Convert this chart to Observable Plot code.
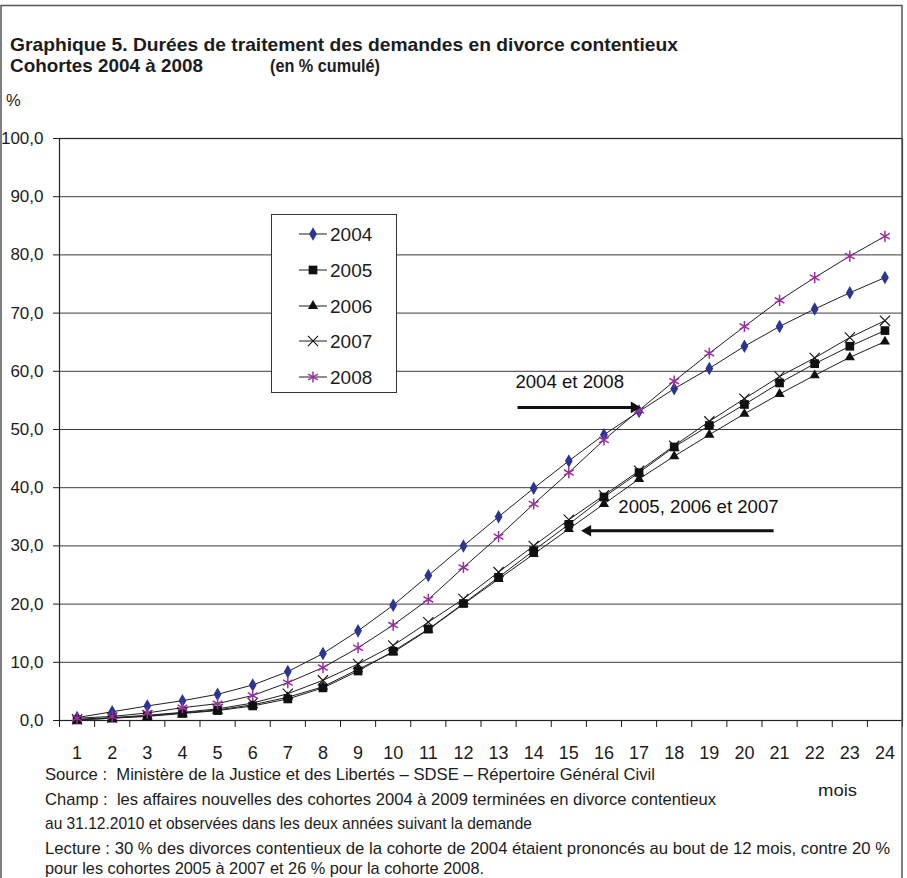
<!DOCTYPE html>
<html>
<head>
<meta charset="utf-8">
<script src="https://cdn.jsdelivr.net/npm/d3@7"></script>
<script src="https://cdn.jsdelivr.net/npm/@observablehq/plot@0.6"></script>
<style>
  body { margin: 0; background: #fff; }
  #chart { width: 907px; height: 878px; }
</style>
</head>
<body>
<div id="chart"></div>
<script>
// ---------- data ----------
const months = [1,2,3,4,5,6,7,8,9,10,11,12,13,14,15,16,17,18,19,20,21,22,23,24];
const cohorts = ["2004", "2005", "2006", "2007", "2008"];
const s2004 = [0.5,1.5,2.5,3.4,4.5,6.1,8.4,11.5,15.4,19.8,24.9,30.0,35.0,39.9,44.6,49.1,53.1,57.0,60.5,64.3,67.7,70.7,73.5,76.1];
const s2005 = [0.1,0.4,0.7,1.2,1.7,2.5,3.7,5.6,8.5,11.9,15.7,20.1,24.6,29.2,33.7,38.4,42.6,47.0,50.7,54.3,58.0,61.3,64.3,67.0];
const s2006 = [0.1,0.4,0.8,1.3,1.8,2.7,4.0,5.8,8.8,11.7,15.6,20.0,24.3,28.6,32.9,37.2,41.5,45.4,49.1,52.7,56.1,59.3,62.4,65.1];
const s2007 = [0.2,0.5,0.9,1.4,2.0,3.0,4.6,6.9,9.7,12.9,16.9,20.9,25.5,30.0,34.5,38.7,42.9,47.2,51.4,55.3,59.1,62.3,65.8,68.7];
const s2008 = [0.4,0.7,1.3,2.2,2.9,4.3,6.5,9.1,12.5,16.4,20.8,26.3,31.6,37.2,42.6,48.2,53.3,58.3,63.1,67.7,72.2,76.1,79.8,83.2];
const yTicks = [0,10,20,30,40,50,60,70,80,90,100];

const noteLabels = ["2004 et 2008", "2005, 2006 et 2007"];
const noteX = [13.48, 16.41];
const noteY = [58.1, 36.6];
const arrowFrom = [13.54, 20.83];
const arrowTo = [17.04, 15.36];
const arrowY = [53.8, 32.6];

const titleLine1 = "Graphique 5. Durées de traitement des demandes en divorce contentieux";
const titleLine2a = "Cohortes 2004 à 2008";
const titleLine2b = "(en % cumulé)";
const yUnit = "%";
const xUnit = "mois";
const footerLines = [
  "Source :  Ministère de la Justice et des Libertés – SDSE – Répertoire Général Civil",
  "Champ :  les affaires nouvelles des cohortes 2004 à 2009 terminées en divorce contentieux",
  "au 31.12.2010 et observées dans les deux années suivant la demande",
  "Lecture : 30 % des divorces contentieux de la cohorte de 2004 étaient prononcés au bout de 12 mois, contre 20 %",
  "pour les cohortes 2005 à 2007 et 26 % pour la cohorte 2008."
];

// ---------- build ----------
const seriesValues = [s2004, s2005, s2006, s2007, s2008];
const rows = cohorts.flatMap((c, i) => months.map((m, j) => ({month: m, value: seriesValues[i][j], cohort: c})));
const bounds = [months[0] - 0.5, ...months.map(m => m + 0.5)];
const notes = noteLabels.map((t, i) => ({label: t, x: noteX[i], y: noteY[i]}));
const arrows = arrowFrom.map((x1, i) => ({x1, x2: arrowTo[i], y: arrowY[i], dir: Math.sign(arrowTo[i] - x1)}));

const BLUE = "#2b3592";
const PURPLE = "#9a2f9e";
const INK = "#1c1c1c";
const symbolStyle = {
  "2004": {symbol: "diamond", fill: BLUE, stroke: "none", r: 4.1},
  "2005": {symbol: "square", fill: "#111", stroke: "none", r: 4.9},
  "2006": {symbol: "triangle", fill: "#111", stroke: "none", r: 3.8},
  "2007": {symbol: "times", fill: "none", stroke: "#111", r: 4.7, strokeWidth: 1.1},
  "2008": {symbol: "asterisk", fill: "none", stroke: PURPLE, r: 5.3, strokeWidth: 1.5}
};

const dotMarks = cohorts.map(c => {
  const s = symbolStyle[c];
  return Plot.dot(rows.filter(d => d.cohort === c), {
    x: "month", y: "value", symbol: s.symbol, fill: s.fill, stroke: s.stroke, r: s.r, strokeWidth: s.strokeWidth || 1
  });
});

const plot = Plot.plot({
  width: 907,
  height: 878,
  marginTop: 138,
  marginBottom: 158,
  marginLeft: 59,
  marginRight: 5,
  x: {domain: [0.5, 24.5], label: null},
  y: {domain: [0, 100], label: null},
  style: {fontFamily: "'Liberation Sans', Arial, sans-serif", color: INK, background: "#fff"},
  marks: [
    Plot.gridY(yTicks, {stroke: "#3a3a3a", strokeOpacity: 1, strokeWidth: 1}),
    Plot.frame({stroke: "#222", strokeWidth: 1.2}),
    Plot.axisY(yTicks, {tickSize: 6, tickPadding: 10, fontSize: 17, label: null,
      tickFormat: d => d.toFixed(1).replace(".", ",")}),
    Plot.axisX(bounds, {tickSize: 7, tickFormat: () => "", label: null}),
    Plot.axisX(months, {tickSize: 0, tickPadding: 26, fontSize: 18, label: null}),
    Plot.line(rows, {x: "month", y: "value", z: "cohort", stroke: "#1f1f1f", strokeWidth: 1}),
    ...dotMarks,
    Plot.link(arrows, {x1: "x1", x2: d => d.x2 - d.dir * 0.2, y1: "y", y2: "y", stroke: "#111", strokeWidth: 3}),
    Plot.dot(arrows, {x: d => d.x2 - d.dir * 0.18, y: "y", symbol: "triangle", r: 4.3, fill: "#111", stroke: "none",
      rotate: d => d.dir > 0 ? 90 : -90}),
    Plot.text(notes, {x: "x", y: "y", text: "label", textAnchor: "start", fontSize: 18.6, fill: "#111"})
  ]
});

document.getElementById("chart").appendChild(plot);

// ---------- decorations: titles, footer, legend, outer frame ----------
const svg = d3.select(plot);
const FONT = "'Liberation Sans', Arial, sans-serif";

svg.append("rect").attr("x", 1).attr("y", 5.5).attr("width", 901).attr("height", 875)
  .attr("fill", "none").attr("stroke", "#555").attr("stroke-width", 1.5);

function txt(s, x, y, size, opts = {}) {
  const t = svg.append("text").attr("x", x).attr("y", y).text(s)
    .attr("font-family", FONT).attr("font-size", size).attr("fill", opts.fill || INK)
    .attr("font-weight", opts.bold ? "bold" : "normal")
    .attr("text-anchor", opts.anchor || "start");
  if (opts.len) t.attr("textLength", opts.len).attr("lengthAdjust", "spacingAndGlyphs");
  return t;
}

txt(titleLine1, 10, 51, 18.5, {bold: true, len: 668});
txt(titleLine2a, 10, 72, 18.5, {bold: true, len: 193});
txt(titleLine2b, 270, 72, 18.5, {bold: true, len: 110});
txt(yUnit, 6, 106, 16.5);
txt(xUnit, 818, 796, 17, {len: 39});

const footerLen = [610, 671, 487, 845, 439];
const footerY = [780, 804.5, 829, 853.5, 874];
footerLines.forEach((s, i) => txt(s, 45, footerY[i], 17, {len: footerLen[i]}));

// legend
const lg = svg.append("g");
lg.append("rect").attr("x", 271.5).attr("y", 214.5).attr("width", 125).attr("height", 178)
  .attr("fill", "#fff").attr("stroke", "#333").attr("stroke-width", 1);
const legendY = [234, 270, 306, 341, 377];
const symMap = {diamond: d3.symbolDiamond, square: d3.symbolSquare, triangle: d3.symbolTriangle, times: d3.symbolTimes, asterisk: d3.symbolAsterisk};
cohorts.forEach((c, i) => {
  const y = legendY[i];
  const s = symbolStyle[c];
  lg.append("line").attr("x1", 299).attr("x2", 327).attr("y1", y).attr("y2", y).attr("stroke", "#1f1f1f").attr("stroke-width", 1);
  lg.append("path").attr("transform", `translate(313,${y})`)
    .attr("d", d3.symbol(symMap[s.symbol], Math.PI * s.r * s.r)())
    .attr("fill", s.fill).attr("stroke", s.stroke).attr("stroke-width", s.strokeWidth || 1);
  txt(c, 330, y + 7, 19);
});
</script>
</body>
</html>
